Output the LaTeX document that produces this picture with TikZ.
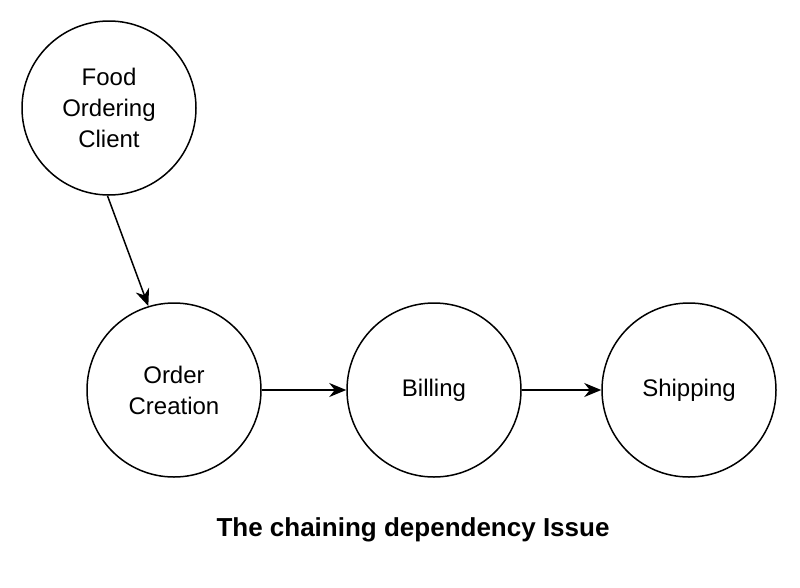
\documentclass[tikz,border=0pt]{standalone}
\usepackage{fontspec}
\setmainfont{Liberation Sans}
\usetikzlibrary{arrows.meta}
\begin{document}
\begin{tikzpicture}[x=1pt,y=-1pt,
  proc/.style={circle,draw,line width=1.5pt,minimum size=174pt,inner sep=0pt,align=center,font=\fontsize{24}{31}\selectfont},
  conn/.style={line width=1.5pt,-{Stealth[length=17pt,width=14pt]}}]
\useasboundingbox (0,0) rectangle (800,587);
\node[proc] (f) at (109,108) {Food\\Ordering\\Client};
\node[proc] (o) at (174,390) {Order\\Creation};
\node[proc] (b) at (434,390) {Billing};
\node[proc] (s) at (689,390) {Shipping};
\draw[conn] (f.-91) -- (o.107);
\draw[conn] (o) -- (b);
\draw[conn] (b) -- (s);
\node[font=\bfseries\fontsize{26}{30}\selectfont] (t) at (413,530) {The chaining dependency Issue};
\end{tikzpicture}
\end{document}
